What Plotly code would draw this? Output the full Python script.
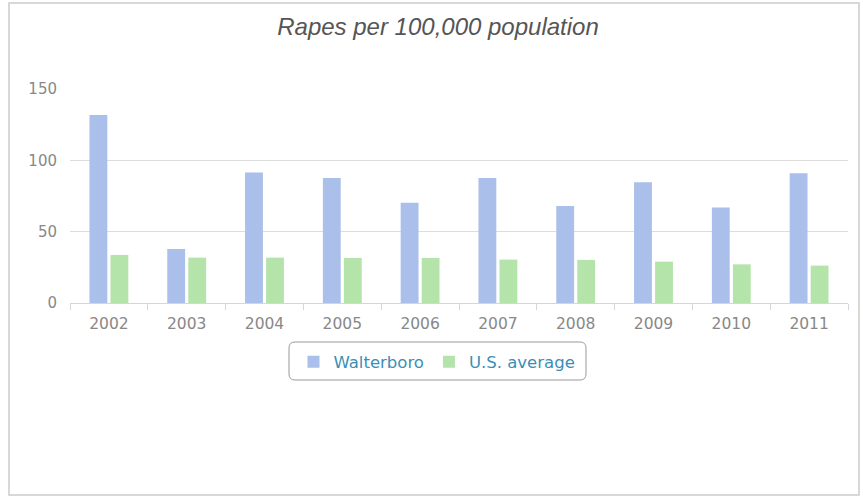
import plotly.graph_objects as go

years = ["2002", "2003", "2004", "2005", "2006", "2007", "2008", "2009", "2010", "2011"]
walterboro = [131.8, 37.9, 91.4, 87.7, 70.2, 87.7, 68.0, 84.6, 66.9, 91.0]
us_average = [33.7, 31.8, 31.8, 31.6, 31.6, 30.4, 30.2, 29.0, 27.1, 26.2]

W, H = 863, 499
L, R, T, B = 70, 15, 89, 196
pw = W - L - R
ph = H - T - B

def px(x):
    return (x - L) / pw

def py(y):
    return (H - B - y) / ph

fig = go.Figure()
fig.add_trace(go.Bar(x=years, y=walterboro, name="Walterboro", marker_color="#aabfe9",
                     marker_line_width=0))
fig.add_trace(go.Bar(x=years, y=us_average, name="U.S. average", marker_color="#b4e4a9",
                     marker_line_width=0))

# rounded legend box
x0, x1, y0, y1, r = px(289), px(586), py(380), py(342), 6
rx, ry = r / pw, r / ph
path = (f"M {x0+rx},{y1} L {x1-rx},{y1} Q {x1},{y1} {x1},{y1-ry} "
        f"L {x1},{y0+ry} Q {x1},{y0} {x1-rx},{y0} L {x0+rx},{y0} "
        f"Q {x0},{y0} {x0},{y0+ry} L {x0},{y1-ry} Q {x0},{y1} {x0+rx},{y1} Z")
fig.add_shape(type="path", path=path, xref="paper", yref="paper",
              line=dict(color="#999999", width=1), fillcolor="rgba(0,0,0,0)")
# outer frame
fig.add_shape(type="rect", xref="paper", yref="paper",
              x0=px(9), x1=px(859), y0=py(495), y1=py(3),
              line=dict(color="#cccccc", width=1.5), fillcolor="rgba(0,0,0,0)")

fig.update_layout(
    width=W, height=H,
    margin=dict(l=L, r=R, t=T, b=B),
    paper_bgcolor="white", plot_bgcolor="white",
    title=dict(text="<i>Rapes per 100,000 population</i>", x=px(438), xref="paper",
               xanchor="center", y=1 - 27 / H, yanchor="middle",
               font=dict(family="Liberation Sans, Arial", size=24, color="#555555")),
    barmode="group", bargap=0.46, bargroupgap=0.15,
    showlegend=True,
    legend=dict(orientation="h", x=px(437), xanchor="center", y=py(362), yanchor="middle",
                font=dict(family="DejaVu Sans", size=16.5, color="#3a8fb5"),
                bgcolor="rgba(0,0,0,0)", borderwidth=0, itemwidth=30),
    font=dict(family="DejaVu Sans", color="#888888"),
)
fig.update_xaxes(showgrid=False, showline=True, linecolor="#cfd8e0", linewidth=1,
                 ticks="outside", tickson="boundaries", ticklen=6, tickcolor="#cfd8e0",
                 ticklabelstandoff=6,
                 tickfont=dict(family="DejaVu Sans", size=15.5, color="#888888"))
fig.update_yaxes(range=[0, 150], tickvals=[0, 50, 100, 150], showgrid=True,
                 gridcolor="#dddddd", gridwidth=1, zeroline=False, showline=False,
                 ticks="", ticklabelstandoff=12,
                 tickfont=dict(family="DejaVu Sans", size=15, color="#888888"))

fig.write_html("out.html", config={"displayModeBar": False},
               post_script="document.body.style.margin='0';")
